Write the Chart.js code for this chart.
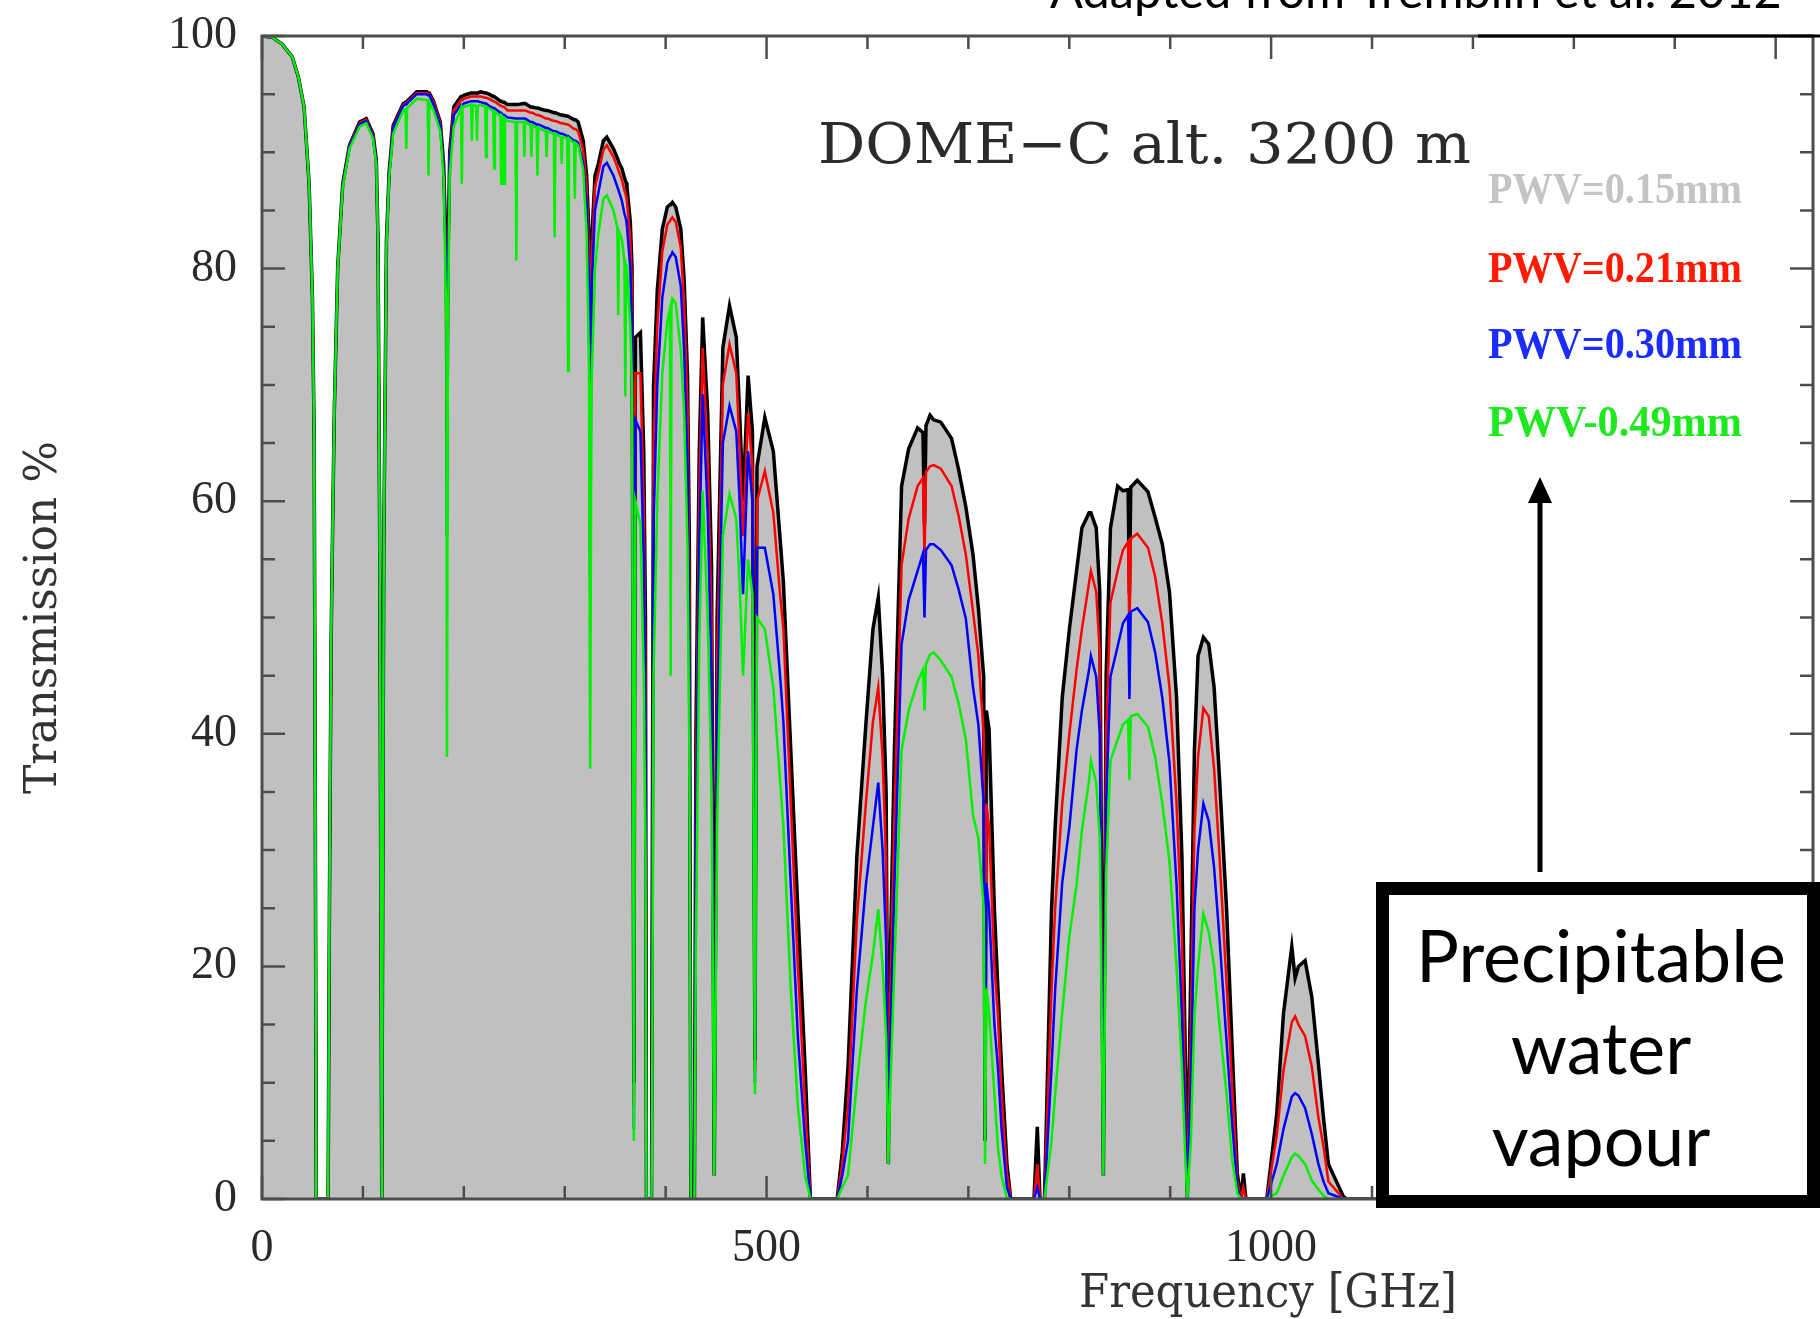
<!DOCTYPE html>
<html>
<head>
<meta charset="utf-8">
<script src="https://cdn.jsdelivr.net/npm/chart.js@4.4.1/dist/chart.umd.min.js"></script>
<style>
  body { margin: 0; background: #fff; }
  #wrap { width: 1820px; height: 1319px; position: relative; }
</style>
</head>
<body>
<div id="wrap"><canvas id="transmission"></canvas></div>
<script>
// frequency grid (GHz), one line per atmospheric window
const freqGHz = [
  0, 10, 20, 30, 36, 41.7, 46.7, 50, 51.7, 52.8, 53.8,
  65.5, 66.8, 68.5, 70, 71.7, 75, 80, 86.7, 96.7, 103.3, 110, 113.3, 115, 116.7, 118.7,
  120.7, 123.3, 126, 130, 140, 142.2, 143, 143.8, 153.3, 163.3, 164.2, 165, 165.8, 170, 176.7, 180, 182.7, 183.3, 184.2, 186, 190,
  197.2, 198, 198.8, 200, 207.2, 208, 208.8, 212.2, 213, 213.8, 216.7, 221.2, 222, 222.8, 225, 229.2, 230, 230.8, 233.3, 236.2, 237, 237.8, 239.2, 240, 240.8, 243.3,
  251.2, 252, 252.8, 259.2, 260, 260.8, 266.2, 267, 267.8, 272.2, 273, 273.8, 276.7, 281.2, 282, 282.8, 289.2, 290, 290.8, 296.2, 297, 297.8, 302.5, 303.3, 304.1, 309.2, 310, 310.8, 313.3, 318.3, 321.7, 324, 325.2, 326.5,
  330, 333.3, 338.3, 341.7, 348.3, 352.2, 353, 353.8, 356.7, 359.2, 360, 360.8, 361.7, 365, 366.7, 368.5, 370, 375, 378.3, 380, 381,
  386, 386.5, 388, 391.7, 396.7, 401.7, 404.2, 405, 405.8, 406.7, 410, 415, 418.3, 421.7, 423.5, 425,
  428.5, 430, 433.3, 436.7, 441.7, 445.5, 448.2,
  451, 456.7, 463.3, 470, 473.3, 476.7, 481.7, 486, 488.5, 490.5, 498.3, 506.7, 513.4, 516.7, 524, 531, 538.2, 543.5,
  570, 575, 580.7, 589.5, 598.4, 605.4, 610.7, 615, 618.5, 620.7, 622.5, 626.7, 633.8, 640.8, 649.7, 655, 656.5, 658, 662, 665.6, 672.7, 683.3, 690.4, 697.5, 704.6, 709.9, 715.2, 716.5, 717.8, 720.5, 725.8, 729.3, 732.9, 738.2, 742,
  765, 768.3, 771, 775.4,
  782.4, 786, 793, 800.1, 807.2, 812.5, 819.6, 821.4, 826.7, 830.2, 833.8, 836.5, 840.8, 847.9, 853.2, 858.3, 859.6, 860.9, 867.4, 878, 885.1, 892.2, 899.3, 906.3, 911.6, 915.2, 917,
  920.5, 924, 927.6, 932.9, 938.2, 943.5, 948.8, 955.9, 961.2, 966.5, 970, 972.5, 975,
  995.7, 1005.6, 1012.2, 1020.5, 1023.8, 1027.1, 1033.7, 1040.3, 1046.9, 1051.9, 1056.8, 1071.7, 1075, 1537
];

// transmission % for each precipitable water vapour
const pwv015 = [
  100, 99.9, 99.3, 98.2, 96.5, 93.9, 87.3, 77.4, 65.6, 35, 0,
  0, 25, 48, 58, 67.9, 80.1, 87.3, 90.6, 92.6, 92.9, 91.6, 89.3, 82.4, 56.3, 0,
  56.3, 82.4, 88.3, 92.3, 94.2, 94.3, 94.3, 94.4, 95.2, 95.2, 95.1, 95.1, 95.1, 94.4, 92.6, 89, 80.7, 66, 80, 90, 93.9,
  94.8, 94.8, 94.8, 94.9, 95.1, 95.1, 95.1, 95.1, 95.1, 95.1, 95.2, 95.1, 95.1, 95.1, 95, 94.8, 94.8, 94.8, 94.6, 94.4, 94.4, 94.4, 94.3, 94.3, 94.3, 94.1,
  94.1, 94.1, 94.1, 94.2, 94.2, 94.2, 93.9, 93.9, 93.9, 93.8, 93.8, 93.8, 93.7, 93.6, 93.6, 93.6, 93.4, 93.4, 93.4, 93.2, 93.2, 93.2, 93.1, 93.1, 93.1, 92.8, 92.8, 92.8, 92.6, 91, 88, 83, 69, 82,
  88, 89, 91, 91.3, 90.3, 89.5, 89.3, 89.1, 88.6, 87.8, 87.6, 87.4, 87, 84, 80, 10, 74.1, 74.5, 64.3, 50, 0,
  0, 20, 69.9, 78.1, 83.4, 85.3, 85.5, 85.5, 85.6, 85.7, 85.3, 83.4, 79.1, 70.8, 56.3, 0,
  0, 40, 64.3, 75.8, 67.6, 54.4, 2,
  50, 73.2, 76.8, 74.1, 67.6, 60, 70.8, 66, 12, 63, 67.2, 64.3, 56.8, 53, 38.6, 24.9, 11.3, 0,
  0, 4, 11.3, 29.5, 40.8, 49, 51.7, 45, 35, 3, 20, 38.6, 61.3, 64.5, 66.3, 65.9, 58, 66.5, 67.4, 67, 66.8, 65.4, 62.7, 59.5, 55.4, 50.8, 44.9, 5, 42, 40.4, 24.9, 18, 11.3, 3, 0,
  0, 6.2, 0, 0,
  24.9, 32, 43.1, 49, 54, 57.7, 59, 59, 57.7, 52.2, 2, 45, 57.7, 61.3, 60.9, 61, 52, 61.2, 61.8, 60.8, 58.6, 56.3, 52.2, 43.1, 29.5, 11.3, 0,
  20.4, 38.6, 46.7, 48.3, 47.7, 44, 36.3, 24.9, 13.5, 2.2, 0, 2.2, 0,
  0, 7.3, 15.9, 21.7, 19, 20, 20.5, 17.4, 11.6, 7, 3, 0.2, 0, 0
];

const pwv021 = [
  100, 99.9, 99.3, 98.2, 96.5, 93.9, 87.3, 77.4, 65.6, 35, 0,
  0, 25, 48, 58, 67.9, 80.1, 87.3, 90.6, 92.5, 92.8, 91.5, 89.2, 82.4, 56.3, 0,
  56.3, 82.4, 88.3, 92.2, 94.1, 94.2, 94.2, 94.3, 95.1, 95.1, 95, 95, 95, 94.3, 92.5, 88.8, 80, 62, 79, 89.7, 93.6,
  94.5, 94.5, 94.5, 94.6, 94.8, 94.8, 94.8, 94.8, 94.8, 94.8, 94.8, 94.7, 94.7, 94.7, 94.6, 94.4, 94.4, 94.4, 94.2, 94, 94, 94, 93.9, 93.9, 93.9, 93.6,
  93.6, 93.6, 93.6, 93.6, 93.6, 93.6, 93.4, 93.4, 93.4, 93.2, 93.2, 93.2, 93.1, 92.9, 92.9, 92.9, 92.7, 92.7, 92.7, 92.5, 92.5, 92.5, 92.4, 92.4, 92.4, 92, 92, 92, 91.8, 90.2, 87, 81.5, 63, 80.5,
  87, 88.2, 90.2, 90.6, 89.6, 88.7, 88.5, 88.3, 87.6, 86.7, 86.5, 86.2, 85.8, 82.5, 78, 8, 71, 71, 60, 45, 0,
  0, 15, 65, 75, 81.5, 83.8, 84.1, 84.2, 84.3, 84.4, 84, 81.8, 77, 68, 52, 0,
  0, 36, 61, 73.2, 64, 50, 2,
  46, 70, 73.5, 71, 64.5, 57, 67.6, 63, 11, 60, 62.6, 59, 52, 49, 34, 20, 8, 0,
  0, 3, 8, 24, 34, 41, 44, 38, 29, 3, 17, 33, 54.5, 58.5, 61.3, 62, 55, 62.5, 63, 63.1, 62.8, 61.3, 58.7, 55.4, 50.5, 46.7, 40, 5, 34, 32, 20, 15.8, 9, 2.2, 0,
  0, 3, 0, 0,
  18, 25, 34, 40, 45.5, 49, 53, 54, 52.2, 47, 2, 40, 51.3, 54, 55.8, 56.5, 48, 56.8, 57.2, 56, 53.5, 49.5, 44, 34, 22.6, 8, 0,
  15, 31.7, 38, 42.2, 41.5, 37, 29.5, 18.5, 10, 1.5, 0, 1, 0,
  0, 5.5, 11, 15.2, 15.7, 15, 14, 11.4, 7, 4.5, 1.5, 0, 0, 0
];

const pwv030 = [
  100, 99.9, 99.3, 98.2, 96.5, 93.9, 87.3, 77.4, 65.6, 35, 0,
  0, 25, 48, 58, 67.9, 80.1, 87.2, 90.5, 92.4, 92.7, 91.4, 89.1, 82.3, 56.3, 0,
  56.3, 82.3, 88.2, 92.1, 94, 94.1, 94.1, 94.2, 95, 95, 94.9, 94.9, 94.9, 94.1, 92.3, 88.5, 79, 57, 78, 89.3, 93.2,
  94.1, 94.1, 94.1, 94.2, 94.4, 94.4, 94.4, 94.4, 94.4, 94.4, 94.3, 94.2, 94.2, 94.2, 94, 93.8, 93.8, 93.8, 93.6, 93.4, 93.4, 93.4, 93.2, 93.2, 93.2, 93,
  92.9, 92.9, 92.9, 92.9, 92.9, 92.9, 92.6, 92.6, 92.6, 92.4, 92.4, 92.4, 92.3, 92.1, 92.1, 92.1, 91.8, 91.8, 91.8, 91.6, 91.6, 91.6, 91.4, 91.4, 91.4, 91, 91, 91, 90.8, 89, 85.5, 79, 53, 78,
  85, 86.5, 88.8, 89.1, 88, 87, 86.8, 86.6, 85.8, 84.7, 84.5, 84.2, 83.6, 80, 75, 6, 67, 66, 55, 40, 0,
  0, 10, 58, 70, 77.5, 80.5, 81, 81.1, 81.2, 81.4, 81, 78.5, 73, 63, 46, 0,
  0, 31, 56, 69.2, 59, 45, 2,
  40, 65, 68.2, 66, 60, 52, 64.3, 60, 10, 56, 56, 52, 45, 41, 27, 14, 5, 0,
  0, 2, 5, 18, 27, 32, 35.8, 30, 22, 3, 13, 27, 47.7, 51.5, 54, 55.5, 50, 55.8, 56.3, 56.3, 55.8, 54.5, 52.4, 49.9, 44, 40.8, 34, 5, 27.2, 25, 15, 11.3, 6, 1, 0,
  0, 1, 0, 0,
  11.3, 18, 27.2, 32, 38.6, 42, 45.5, 46.7, 44.9, 40, 2, 34, 44.9, 47.5, 49.5, 50.2, 43, 50.5, 50.8, 49.6, 47, 43.1, 37.5, 27, 15.8, 6, 0,
  10, 24.9, 30, 34, 32.5, 28.5, 22.5, 13.5, 6.7, 1, 0, 0, 0,
  0, 3, 6, 8.8, 9.1, 8.9, 7.8, 5.6, 3, 1.5, 0.5, 0, 0, 0
];

const pwv049 = [
  100, 99.9, 99.3, 98.2, 96.5, 93.9, 87.3, 77.4, 65.6, 35, 0,
  0, 25, 48, 58, 67.9, 80, 87, 90.3, 92.2, 92.5, 91.2, 88.9, 82, 56, 0,
  56, 82, 87.8, 91.6, 93.6, 93.7, 90.3, 93.8, 94.6, 94.5, 94.4, 88, 94.3, 93.6, 91.8, 87.8, 75, 38, 74, 88, 92.2,
  93.8, 87.3, 93.8, 93.9, 94.1, 91, 94.1, 94, 91, 94, 94.1, 93.9, 89.6, 93.9, 93.8, 93.5, 88.6, 93.5, 93.3, 93.1, 87.3, 93.1, 92.9, 87.3, 92.9, 92.7,
  92.6, 80.7, 92.6, 92.6, 89.6, 92.6, 92.3, 89.6, 92.3, 92.1, 88, 92.1, 92, 91.8, 89.6, 91.8, 91.6, 82.7, 91.6, 91.3, 89, 91.3, 91.2, 71.2, 91.2, 90.8, 86, 90.8, 90.6, 88.5, 83, 72, 37, 70,
  80, 83, 86, 86.3, 85, 83.5, 76, 83.2, 82.5, 80.5, 69, 80.3, 80, 75, 70, 5, 60, 58, 45, 30, 0,
  0, 5, 45, 60, 71, 75.5, 76.5, 45, 76.8, 77.4, 77, 73, 67.6, 56, 38, 0,
  0, 22, 48, 60.9, 50, 35, 2,
  32, 57, 60.6, 58.5, 53, 45, 55, 52, 9, 50, 49, 44, 36, 32, 18, 8, 2, 0,
  0, 1, 2, 10, 17, 21, 24.9, 20, 14, 3, 9, 20, 38.6, 42, 44.5, 45.5, 42, 46, 46.8, 47, 46.3, 44.9, 42.6, 39.5, 33, 31, 25, 3, 18.1, 16, 9, 4.4, 2, 0, 0,
  0, 0, 0, 0,
  5, 9, 16, 22.6, 27, 31.7, 36, 37.7, 35.8, 31, 2, 28, 37.7, 39.5, 40.8, 41.2, 36, 41.5, 41.7, 40.6, 38, 34, 29, 20, 11.3, 3, 0,
  5, 15.8, 20, 24.5, 23, 20, 15, 9, 3.5, 0.5, 0, 0, 0,
  0, 0.5, 2, 3.6, 3.9, 3.7, 3, 1.6, 0.8, 0.3, 0, 0, 0, 0
];

const seriesLabels = ['PWV=0.15mm', 'PWV=0.21mm', 'PWV=0.30mm', 'PWV-0.49mm'];
const xLabelValues = [0, 500, 1000];
const xTickValues = [0, 100, 200, 300, 400, 500, 600, 700, 800, 900, 1000, 1100, 1200, 1300, 1400, 1500];
const yTickValues = [0, 5, 10, 15, 20, 25, 30, 35, 40, 45, 50, 55, 60, 65, 70, 75, 80, 85, 90, 95, 100];

[pwv015, pwv021, pwv030, pwv049].forEach((s, i) => {
  if (s.length !== freqGHz.length) throw new Error(seriesLabels[i] + ' has ' + s.length + ' values, expected ' + freqGHz.length);
});

function toPoints(values) {
  return values.map((v, i) => ({x: freqGHz[i], y: v}));
}

//draws text stretched to a given width (keeps the look of the old plot fonts)
function fitText(ctx, text, left, baseline, width, font, color) {
  ctx.save();
  ctx.font = font;
  ctx.fillStyle = color;
  ctx.textBaseline = 'alphabetic';
  ctx.textAlign = 'left';
  const w = ctx.measureText(text).width;
  ctx.translate(left, baseline);
  ctx.scale(width / w, 1);
  ctx.fillText(text, 0, 0);
  ctx.restore();
}

const pgplotFrame = {
  id: 'pgplotFrame',
  afterDatasetsDraw: (chart) => {
    const {ctx, chartArea: a} = chart;
    const xs = chart.scales.x;
    const ys = chart.scales.y;
    ctx.save();
    ctx.strokeStyle = '#4d4d4d';
    ctx.lineWidth = 2.5;
    ctx.beginPath();
    xTickValues.forEach((v) => {
      const px = xs.getPixelForValue(v);
      const len = v % 500 === 0 ? 23 : 13;
      ctx.moveTo(px, a.bottom); ctx.lineTo(px, a.bottom - len);
      ctx.moveTo(px, a.top); ctx.lineTo(px, a.top + len);
    });
    yTickValues.forEach((v) => {
      const py = ys.getPixelForValue(v);
      const len = v % 20 === 0 ? 23 : 13;
      ctx.moveTo(a.left, py); ctx.lineTo(a.left + len, py);
      ctx.moveTo(a.right, py); ctx.lineTo(a.right - len, py);
    });
    ctx.stroke();
    ctx.lineWidth = 3;
    ctx.strokeRect(a.left, a.top, a.right - a.left, a.bottom - a.top);
    ctx.strokeStyle = '#000';
    ctx.beginPath();
    ctx.moveTo(1478, a.top); ctx.lineTo(1820, a.top);
    ctx.stroke();
    ctx.restore();
  },
  afterDraw: (chart) => {
    const {ctx} = chart;

    fitText(ctx, 'DOME\u2212C alt. 3200 m', 818, 163, 653, '56px "DejaVu Serif"', '#2b2b2b');
    const legendColors = ['#c4c4c4', '#ff1a00', '#1a2cff', '#1ee81e'];
    const legendBaselines = [203, 282, 358, 436];
    seriesLabels.forEach((t, i) => {
      fitText(ctx, t, 1488, legendBaselines[i], 254, 'bold 44px "Liberation Serif"', legendColors[i]);
    });
    fitText(ctx, 'Frequency [GHz]', 1079, 1307, 378, '46px "DejaVu Serif"', '#333');

    ctx.save();
    ctx.font = '44px Lato';
    const adaptedSize = 44 * 732 / ctx.measureText('Adapted from Tremblin et al. 2012').width;
    ctx.font = adaptedSize + 'px Lato';
    ctx.fillStyle = '#000';
    ctx.textBaseline = 'alphabetic';
    ctx.fillText('Adapted from Tremblin et al. 2012', 1050, 8);

    // arrow pointing up towards higher PWV curves
    ctx.strokeStyle = '#000';
    ctx.fillStyle = '#000';
    ctx.lineWidth = 5;
    ctx.beginPath();
    ctx.moveTo(1540, 872); ctx.lineTo(1540, 500);
    ctx.stroke();
    ctx.beginPath();
    ctx.moveTo(1540, 477); ctx.lineTo(1528, 503); ctx.lineTo(1552, 503);
    ctx.closePath();
    ctx.fill();

    // annotation box
    ctx.fillStyle = '#fff';
    ctx.fillRect(1376, 882, 444, 326);
    ctx.lineWidth = 13;
    ctx.strokeRect(1382.5, 888.5, 431, 313);
    ctx.font = '72px Lato';
    const boxSize = 72 * 370 / ctx.measureText('Precipitable').width;
    ctx.font = boxSize + 'px Lato';
    ctx.fillStyle = '#000';
    ctx.textAlign = 'center';
    ctx.fillText('Precipitable', 1601, 982);
    ctx.fillText('water', 1601, 1074);
    ctx.fillText('vapour', 1601, 1166);
    ctx.restore();
  }
};

const transmissionChart = new Chart(document.getElementById('transmission'), {
  type: 'line',
  data: {
    datasets: [{
      label: seriesLabels[0],
      data: toPoints(pwv015),
      borderColor: '#000000',
      borderWidth: 3.5,
      backgroundColor: '#c0c0c0',
      fill: 'origin',
      order: 4,
    }, {
      label: seriesLabels[1],
      data: toPoints(pwv021),
      borderColor: '#ff0000',
      borderWidth: 2.5,
      fill: false,
      order: 3,
    }, {
      label: seriesLabels[2],
      data: toPoints(pwv030),
      borderColor: '#0000ff',
      borderWidth: 2.5,
      fill: false,
      order: 2,
    }, {
      label: seriesLabels[3],
      data: toPoints(pwv049),
      borderColor: '#00f000',
      borderWidth: 2.5,
      fill: false,
      order: 1,
    }]
  },
  options: {
    responsive: true,
    maintainAspectRatio: false,
    animation: false,
    layout: {padding: {top: 36, right: 7, left: 0, bottom: 0}},
    elements: {point: {radius: 0}, line: {tension: 0}},
    plugins: {legend: {display: false}, tooltip: {enabled: false}},
    scales: {
      x: {
        type: 'linear',
        min: 0,
        max: 1537,
        afterBuildTicks: (scale) => { scale.ticks = xLabelValues.map(v => ({value: v})); },
        afterFit: (scale) => { scale.height = 120; scale.paddingLeft = 0; scale.paddingRight = 0; },
        grid: {display: false, drawTicks: false},
        border: {display: false},
        ticks: {
          autoSkip: false,
          maxRotation: 0,
          padding: 22,
          color: '#2a2a2a',
          font: {family: 'Liberation Serif', size: 46},
          callback: value => String(value)
        }
      },
      y: {
        min: 0,
        max: 100,
        afterFit: (scale) => { scale.width = 262; scale.paddingTop = 0; scale.paddingBottom = 0; },
        grid: {display: false, drawTicks: false},
        border: {display: false},
        ticks: {
          stepSize: 20,
          padding: 25,
          color: '#2a2a2a',
          font: {family: 'Liberation Serif', size: 46}
        },
        title: {
          display: true,
          text: 'Transmission %',
          color: '#333',
          font: {family: 'DejaVu Serif', size: 44},
          padding: {top: 18, bottom: 0}
        }
      }
    }
  },
  plugins: [pgplotFrame],
});
</script>
</body>
</html>
